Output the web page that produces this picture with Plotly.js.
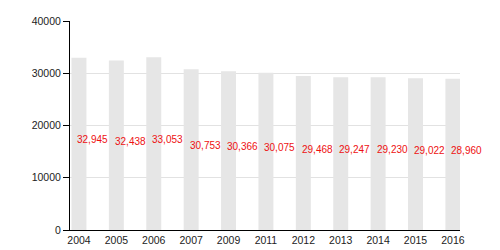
<!DOCTYPE html>
<html><head><meta charset="utf-8">
<script src="https://cdn.plot.ly/plotly-3.0.1.min.js"></script>
<style>html,body{margin:0;padding:0;background:#fff}#c{width:500px;height:250px}</style>
</head><body><div id="c"></div>
<script>
const years = ['2004','2005','2006','2007','2009','2011','2012','2013','2014','2015','2016'];
const population = [32945,32438,33053,30753,30366,30075,29468,29247,29230,29022,28960];
const yTicks = [0,10000,20000,30000,40000];

const fmt = v => v.toLocaleString('en-US');

const annotations = years.map((y,i)=>({
  x: i, y: population[i]/2, xref:'x', yref:'y',
  text: fmt(population[i]), showarrow:false,
  xshift: 14, yshift: 4,
  font:{family:'Liberation Sans, Arial, sans-serif', size:10, color:'#ee1111'}
}));

Plotly.newPlot('c', [{
  type:'bar', x: years.map((_,i)=>i), y: population,
  width: 0.4,
  marker:{color:'#e6e6e6'},
  hoverinfo:'skip'
}], {
  width:500, height:250,
  margin:{l:70, r:40, t:21, b:20, pad:0},
  paper_bgcolor:'#fff', plot_bgcolor:'#fff',
  showlegend:false,
  font:{family:'Liberation Sans, Arial, sans-serif', size:10, color:'#333'},
  xaxis:{
    range:[-0.24,10.19], tickmode:'array',
    tickvals: years.map((_,i)=>i), ticktext: years,
    showline:true, linecolor:'#000', linewidth:1,
    showgrid:false, zeroline:false, ticks:'', ticklen:0,
    tickfont:{size:10.5, color:'#222'}, fixedrange:true
  },
  yaxis:{
    range:[0,40000], tickmode:'array', tickvals:yTicks,
    ticktext: yTicks.map(String),
    showline:true, linecolor:'#000', linewidth:1,
    ticks:'outside', ticklen:6, tickcolor:'#000',
    showgrid:true, gridcolor:'#e2e2e2', gridwidth:1,
    zeroline:false, tickfont:{size:10.5, color:'#222'}, fixedrange:true
  },
  annotations: annotations
}, {displayModeBar:false, staticPlot:true});
</script></body></html>
